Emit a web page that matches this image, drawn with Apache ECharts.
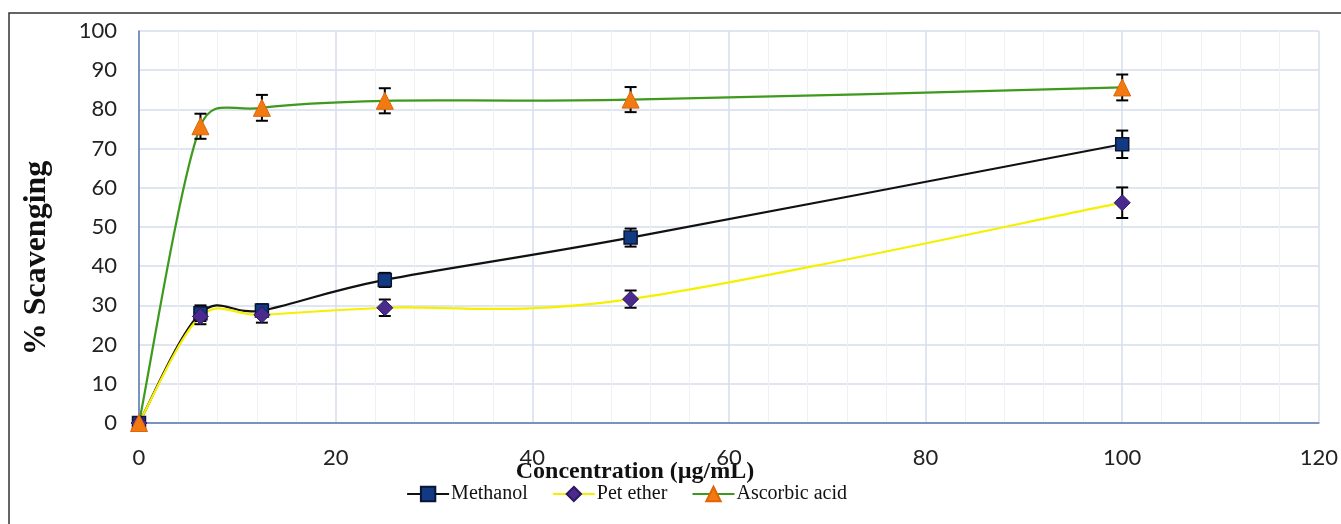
<!DOCTYPE html>
<html>
<head>
<meta charset="utf-8">
<script src="https://cdn.jsdelivr.net/npm/echarts@6/dist/echarts.min.js"></script>
<style>
html,body{margin:0;padding:0;background:#fff;}
#c{width:1341px;height:524px;}
</style>
</head>
<body>
<div id="c"></div>
<script>
var concentration = [0, 6.25, 12.5, 25, 50, 100];
var methanol = [0, 28.0, 28.7, 36.5, 47.3, 71.1];
var methanolErr = [0.4, 2.0, 1.6, 1.8, 2.3, 3.5];
var petEther = [0, 27.2, 27.6, 29.4, 31.6, 56.2];
var petEtherErr = [0.3, 2.0, 2.0, 2.1, 2.2, 3.9];
var ascorbic = [0, 75.7, 80.4, 82.2, 82.5, 85.6];
var ascorbicErr = [0.3, 3.2, 3.3, 3.2, 3.2, 3.3];
var xTicks = [0, 20, 40, 60, 80, 100, 120];
var yTicks = [0, 10, 20, 30, 40, 50, 60, 70, 80, 90, 100];

var lineColors = { m: '#111111', p: '#F5F000', a: '#3D9A1C' };

function pairs(vals) {
  return concentration.map(function (x, i) { return [x, vals[i]]; });
}
function errs(vals, e) {
  return concentration.map(function (x, i) { return [x, vals[i] - e[i], vals[i] + e[i]]; });
}
function errRender(params, api) {
  var x = api.value(0);
  var lo = api.coord([x, api.value(1)]);
  var hi = api.coord([x, api.value(2)]);
  var w = 6;
  var st = { stroke: '#000', lineWidth: 2 };
  return {
    type: 'group',
    children: [
      { type: 'line', shape: { x1: lo[0], y1: lo[1], x2: hi[0], y2: hi[1] }, style: st },
      { type: 'line', shape: { x1: lo[0] - w, y1: lo[1], x2: lo[0] + w, y2: lo[1] }, style: st },
      { type: 'line', shape: { x1: hi[0] - w, y1: hi[1], x2: hi[0] + w, y2: hi[1] }, style: st }
    ]
  };
}
// spreadsheet-style smoothed segment between point i and i+1
function curveRender(color) {
  return function (params, api) {
    var i = params.dataIndexInside;
    var n = params.dataInsideLength;
    if (i >= n - 1) return null;
    function pt(k) {
      k = Math.max(0, Math.min(n - 1, k));
      return api.coord([api.value(0, k), api.value(1, k)]);
    }
    var p0 = pt(i - 1), p1 = pt(i), p2 = pt(i + 1), p3 = pt(i + 2);
    var seg = Math.hypot(p2[0] - p1[0], p2[1] - p1[1]);
    function tangent(a, b) {
      var tx = (b[0] - a[0]) / 6, ty = (b[1] - a[1]) / 6;
      var len = Math.hypot(tx, ty);
      var cap = seg / 2;
      if (len > cap && len > 0) { tx *= cap / len; ty *= cap / len; }
      return [tx, ty];
    }
    var t1 = tangent(p0, p2), t2 = tangent(p1, p3);
    return {
      type: 'bezierCurve',
      shape: {
        x1: p1[0], y1: p1[1], x2: p2[0], y2: p2[1],
        cpx1: p1[0] + t1[0], cpy1: p1[1] + t1[1],
        cpx2: p2[0] - t2[0], cpy2: p2[1] - t2[1]
      },
      style: { stroke: color, lineWidth: 2.2, fill: 'none' }
    };
  };
}

var chart = echarts.init(document.getElementById('c'), null, { renderer: 'canvas' });
var option = {
  animation: false,
  backgroundColor: '#fff',
  grid: { left: 139, top: 31, right: 21, bottom: 101, containLabel: false },
  xAxis: {
    type: 'value', min: xTicks[0], max: xTicks[xTicks.length - 1], interval: 20,
    axisLine: { show: true, lineStyle: { color: '#5A77AE', width: 1.5 } },
    axisTick: { show: false },
    axisLabel: { color: '#222', fontFamily: 'Lato', fontSize: 22, margin: 24 },
    splitLine: { show: true, lineStyle: { color: '#D5DEEC', width: 1.5 } },
    minorTick: { show: false, splitNumber: 5 },
    minorSplitLine: { show: true, lineStyle: { color: '#EEF2F7', width: 1 } }
  },
  yAxis: {
    type: 'value', min: yTicks[0], max: yTicks[yTicks.length - 1], interval: 10,
    axisLine: { show: true, lineStyle: { color: '#5A77AE', width: 1.5 } },
    axisTick: { show: false },
    axisLabel: { color: '#222', fontFamily: 'Lato', fontSize: 22, margin: 22 },
    splitLine: { show: true, lineStyle: { color: '#D5DEEC', width: 1.5 } }
  },
  legend: {
    left: 401, top: 479, itemWidth: 42, itemHeight: 18, itemGap: 24,
    textStyle: { fontFamily: 'Liberation Serif', fontSize: 20, color: '#111', padding: [0, 0, 0, -3] },
    data: [
      { name: 'Methanol', lineStyle: { color: lineColors.m, width: 2.2, opacity: 1 } },
      { name: 'Pet ether', lineStyle: { color: lineColors.p, width: 2.2, opacity: 1 } },
      { name: 'Ascorbic acid', lineStyle: { color: lineColors.a, width: 2.2, opacity: 1 } }
    ]
  },
  graphic: [
    { type: 'rect', x: 9, y: 13, shape: { x: 0, y: 0, width: 1345, height: 530 },
      style: { fill: 'none', stroke: '#333', lineWidth: 1.5 }, z: 100 },
    { type: 'text', x: 37, y: 258, rotation: Math.PI / 2,
      style: { text: '% Scavenging', fontFamily: 'Liberation Serif', fontWeight: 'bold', fontSize: 32,
        fill: '#111', textAlign: 'center', textVerticalAlign: 'middle' } },
    { type: 'text', x: 635, y: 472,
      style: { text: 'Concentration (µg/mL)', fontFamily: 'Liberation Serif', fontWeight: 'bold', fontSize: 24,
        fill: '#111', textAlign: 'center', textVerticalAlign: 'middle' } }
  ],
  series: [
    { type: 'custom', name: 'mCurve', renderItem: curveRender(lineColors.m), data: pairs(methanol), z: 2, clip: false, silent: true },
    { type: 'custom', name: 'pCurve', renderItem: curveRender(lineColors.p), data: pairs(petEther), z: 2, clip: false, silent: true },
    { type: 'custom', name: 'aCurve', renderItem: curveRender(lineColors.a), data: pairs(ascorbic), z: 2, clip: false, silent: true },
    { type: 'custom', name: 'mErr', renderItem: errRender, data: errs(methanol, methanolErr), z: 3, clip: false, silent: true },
    { type: 'custom', name: 'pErr', renderItem: errRender, data: errs(petEther, petEtherErr), z: 3, clip: false, silent: true },
    { type: 'custom', name: 'aErr', renderItem: errRender, data: errs(ascorbic, ascorbicErr), z: 3, clip: false, silent: true },
    { type: 'line', name: 'Methanol', data: pairs(methanol), clip: false, z: 4,
      lineStyle: { color: lineColors.m, width: 2.2, opacity: 0 }, symbol: 'rect', symbolSize: 13,
      itemStyle: { color: '#123A82', borderColor: '#0A1533', borderWidth: 1.5 } },
    { type: 'line', name: 'Pet ether', data: pairs(petEther), clip: false, z: 5,
      lineStyle: { color: lineColors.p, width: 2.2, opacity: 0 }, symbol: 'diamond', symbolSize: 16,
      itemStyle: { color: '#4A2A8C', borderColor: '#2E1860', borderWidth: 1 } },
    { type: 'line', name: 'Ascorbic acid', data: pairs(ascorbic), clip: false, z: 6,
      lineStyle: { color: lineColors.a, width: 2.2, opacity: 0 }, symbol: 'triangle', symbolSize: 17,
      itemStyle: { color: '#F27A12', borderColor: '#E06408', borderWidth: 1 } }
  ]
};
chart.setOption(option);
</script>
</body>
</html>
